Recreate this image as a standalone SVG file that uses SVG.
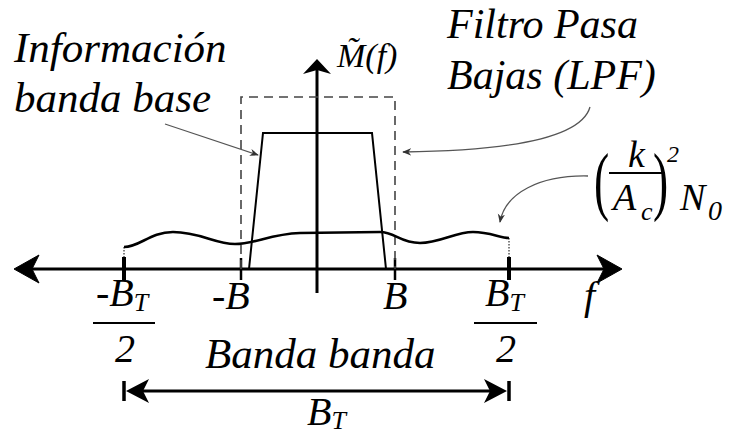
<svg xmlns="http://www.w3.org/2000/svg" width="729" height="434" viewBox="0 0 729 434">
<defs>
<marker id="ah" viewBox="0 0 10 10" refX="9" refY="5" markerWidth="9" markerHeight="9" markerUnits="userSpaceOnUse" orient="auto">
<path d="M0,1 L10,5 L0,9 L3,5 Z" fill="#333"/>
</marker>
<path id="hl" d="M0,0 L25,-14 L18,0 L25,14 Z" fill="#000"/>
<path id="hs" d="M0,0 L23,-12 L17,0 L23,12 Z" fill="#000"/>
</defs>
<rect width="729" height="434" fill="#fff"/>

<g id="axes" stroke="#000" fill="none">
<line stroke-width="3" x1="30" y1="269" x2="606" y2="269"/>
<use href="#hl" transform="translate(14,269)"/>
<use href="#hl" transform="translate(622,269) rotate(180)"/>
<line stroke-width="3" x1="317" y1="70" x2="317" y2="293"/>
<path d="M317,59 L331,74 L317,70 L303,74 Z" fill="#000" stroke="none"/>
<line stroke-width="4" x1="124" y1="257" x2="124" y2="280"/>
<line stroke-width="4" x1="509" y1="257" x2="509" y2="280"/>
<line stroke-width="2.5" x1="241" y1="258" x2="241" y2="280"/>
<line stroke-width="2.5" x1="395" y1="258" x2="395" y2="280"/>
</g>

<g id="filter">
<path d="M241,269 V97 H395 V269" fill="none" stroke="#444" stroke-width="1.6" stroke-dasharray="9,6"/>
</g>

<g id="baseband">
<path d="M249,269 L263,133 L372,133 L386,269" fill="none" stroke="#000" stroke-width="2"/>
</g>

<g id="noise">
<path d="M124,247 C140,247 150,232 173,232 C200,232 215,244 235,244 C255,244 270,234 300,233 L380,232 C395,232 400,243 420,243 C440,243 455,232 473,232 C490,232 500,238 509,238" fill="none" stroke="#000" stroke-width="2.6"/>
<line x1="124" y1="247" x2="124" y2="258" stroke="#000" stroke-width="1" stroke-dasharray="1.5,1.5"/>
<line x1="509" y1="238" x2="509" y2="258" stroke="#000" stroke-width="1" stroke-dasharray="1.5,1.5"/>
</g>

<g id="span" stroke="#000">
<line stroke-width="3" x1="140" y1="391" x2="494" y2="391"/>
<line stroke-width="3.5" x1="124" y1="381" x2="124" y2="401"/>
<line stroke-width="3.5" x1="509" y1="381" x2="509" y2="401"/>
<use href="#hs" transform="translate(126,391)" stroke="none"/>
<use href="#hs" transform="translate(507,391) rotate(180)" stroke="none"/>
</g>

<g id="connectors" stroke="#555" stroke-width="1.3" fill="none">
<line x1="165" y1="124" x2="258" y2="155" marker-end="url(#ah)"/>
<path d="M590,107 Q578,150 403,152" marker-end="url(#ah)"/>
<path d="M588,176 C540,175 505,193 500,222" marker-end="url(#ah)"/>
</g>

<g id="label-info">
<text font-family="Liberation Serif, Tinos, Times New Roman, serif" font-style="italic" font-size="43" x="14" y="62">Informaci&#243;n</text>
<text font-family="Liberation Serif, Tinos, Times New Roman, serif" font-style="italic" font-size="43" x="14" y="112">banda base</text>
</g>

<g id="label-lpf">
<text font-family="Liberation Serif, Tinos, Times New Roman, serif" font-style="italic" font-size="42" x="447" y="38">Filtro Pasa</text>
<text font-family="Liberation Serif, Tinos, Times New Roman, serif" font-style="italic" font-size="42" x="447" y="89">Bajas (LPF)</text>
</g>

<g id="label-m">
<text font-family="Liberation Serif, Tinos, Times New Roman, serif" font-style="italic" font-size="34" x="337" y="67">M&#771;(f)</text>
</g>

<g id="ticks-labels">
<text font-family="Liberation Serif, Tinos, Times New Roman, serif" font-style="italic" font-size="40" x="212" y="309">-B</text>
<text font-family="Liberation Serif, Tinos, Times New Roman, serif" font-style="italic" font-size="40" x="383" y="309">B</text>
<text font-family="Liberation Serif, Tinos, Times New Roman, serif" font-style="italic" font-size="40" x="584" y="309">f</text>
<text font-family="Liberation Serif, Tinos, Times New Roman, serif" font-style="italic" font-size="40" x="96" y="306">-B<tspan font-size="26" dy="5">T</tspan></text>
<line x1="93" y1="323" x2="155" y2="323" stroke="#000" stroke-width="2"/>
<text font-family="Liberation Serif, Tinos, Times New Roman, serif" font-style="italic" font-size="40" x="115" y="362">2</text>
<text font-family="Liberation Serif, Tinos, Times New Roman, serif" font-style="italic" font-size="40" x="485" y="306">B<tspan font-size="26" dy="5">T</tspan></text>
<line x1="474" y1="323" x2="537" y2="323" stroke="#000" stroke-width="2"/>
<text font-family="Liberation Serif, Tinos, Times New Roman, serif" font-style="italic" font-size="40" x="496" y="362">2</text>
</g>

<g id="label-span">
<text font-family="Liberation Serif, Tinos, Times New Roman, serif" font-style="italic" font-size="43" x="205" y="368">Banda banda</text>
<text font-family="Liberation Serif, Tinos, Times New Roman, serif" font-style="italic" font-size="40" x="307" y="425">B<tspan font-size="26" dy="4">T</tspan></text>
</g>

<g id="label-noise">
<text font-family="Liberation Serif, Tinos, Times New Roman, serif" font-size="76" transform="translate(594,206) scale(0.6,1)">(</text>
<text font-family="Liberation Serif, Tinos, Times New Roman, serif" font-style="italic" font-size="38" x="628" y="167">k</text>
<line x1="609" y1="173" x2="663" y2="173" stroke="#000" stroke-width="2"/>
<text font-family="Liberation Serif, Tinos, Times New Roman, serif" font-style="italic" font-size="38" x="613" y="210">A</text>
<text font-family="Liberation Serif, Tinos, Times New Roman, serif" font-style="italic" font-size="26" x="641" y="220">c</text>
<text font-family="Liberation Serif, Tinos, Times New Roman, serif" font-size="76" transform="translate(653,206) scale(0.6,1)">)</text>
<text font-family="Liberation Serif, Tinos, Times New Roman, serif" font-style="italic" font-size="24" x="667" y="162">2</text>
<text font-family="Liberation Serif, Tinos, Times New Roman, serif" font-style="italic" font-size="38" x="680" y="210">N</text>
<text font-family="Liberation Serif, Tinos, Times New Roman, serif" font-style="italic" font-size="28" x="708" y="220">0</text>
</g>
</svg>
